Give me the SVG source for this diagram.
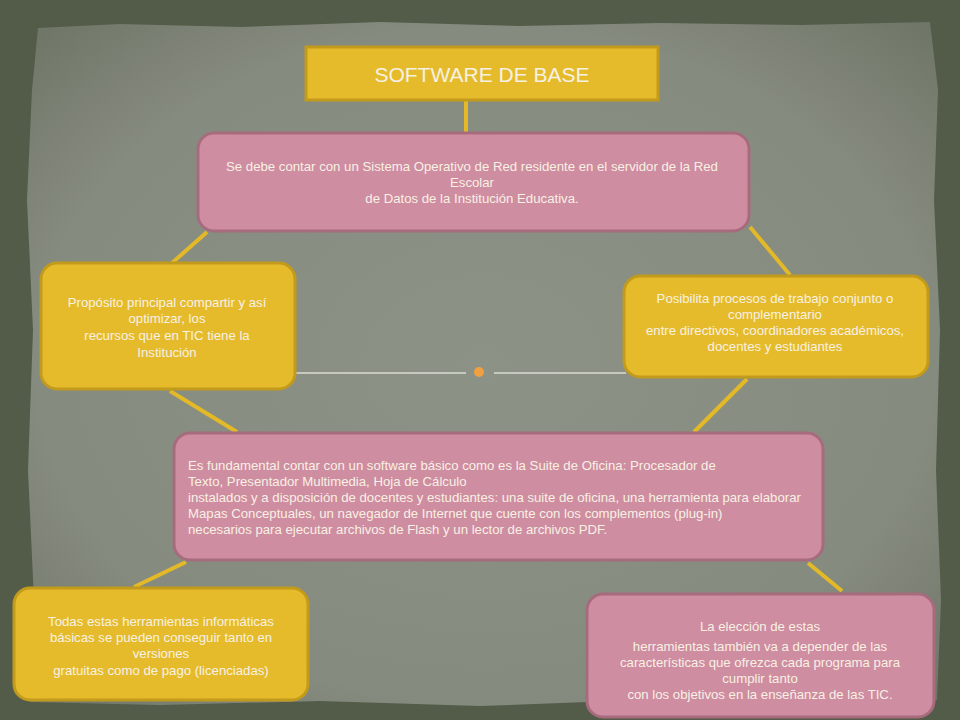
<svg xmlns="http://www.w3.org/2000/svg" width="960" height="720" viewBox="0 0 960 720">
<style>
.y{fill:#e5bb2b;stroke:#c29a1c;stroke-width:3}
.p{fill:#cf8da1;stroke:#a66c7d;stroke-width:3}
.t{font-family:"Liberation Sans",Arial,sans-serif;font-size:13.2px;fill:#f7f1e4}
.c{stroke:#e3b928;stroke-width:4;fill:none;stroke-linecap:butt}
</style>
<defs>
<radialGradient id="bg" cx="50%" cy="50%" r="70%">
<stop offset="0" stop-color="#8d9287"/>
<stop offset="0.7" stop-color="#868b7f"/>
<stop offset="1" stop-color="#6e7566"/>
</radialGradient>
</defs>
<rect width="960" height="720" fill="#535b49"/>
<polygon fill="url(#bg)" points="38,28 120,24 240,27 380,22 520,26 660,23 800,25 930,22 938,90 934,200 940,330 936,470 941,600 937,700 800,704 640,700 480,706 320,701 160,705 30,702 34,600 28,470 33,330 27,200 32,90"/>
<g id="connectors">
<line class="c" x1="466" y1="100" x2="466" y2="133"/>
<line class="c" x1="207" y1="232" x2="172" y2="263"/>
<line class="c" x1="750" y1="227" x2="790" y2="275"/>
<line class="c" x1="170" y1="391" x2="237" y2="432"/>
<line class="c" x1="747" y1="379" x2="694" y2="432"/>
<line class="c" x1="186" y1="562" x2="134" y2="587"/>
<line class="c" x1="808" y1="563" x2="842" y2="591"/>
<line x1="296" y1="373" x2="466" y2="373" stroke="#d8dcd2" stroke-width="1.5"/>
<line x1="494" y1="373" x2="626" y2="373" stroke="#d8dcd2" stroke-width="1.5"/>
<circle cx="479" cy="372" r="5" fill="#f0a040"/>
</g>
<g id="n1">
<rect class="y" x="306" y="47" width="352" height="53"/>
<text class="t" x="482" y="82" text-anchor="middle" style="font-size:21px">SOFTWARE DE BASE</text>
</g>
<g id="n2">
<rect class="p" x="198" y="133" width="551" height="98" rx="16"/>
<text class="t" text-anchor="middle"><tspan x="472" y="171">Se debe contar con un Sistema Operativo de Red residente en el servidor de la Red</tspan><tspan x="472" y="187">Escolar</tspan><tspan x="472" y="203">de Datos de la Institución Educativa.</tspan></text>
</g>
<g id="n3">
<rect class="y" x="41" y="263" width="254" height="126" rx="16"/>
<text class="t" text-anchor="middle"><tspan x="167" y="307">Propósito principal compartir y así</tspan><tspan x="167" y="323">optimizar, los</tspan><tspan x="167" y="340">recursos que en TIC tiene la</tspan><tspan x="167" y="357">Institución</tspan></text>
</g>
<g id="n4">
<rect class="y" x="624" y="276" width="304" height="101" rx="16"/>
<text class="t" text-anchor="middle"><tspan x="775" y="303">Posibilita procesos de trabajo conjunto o</tspan><tspan x="775" y="319">complementario</tspan><tspan x="775" y="335">entre directivos, coordinadores académicos,</tspan><tspan x="775" y="351">docentes y estudiantes</tspan></text>
</g>
<g id="n5">
<rect class="p" x="174" y="433" width="649" height="127" rx="16"/>
<text class="t"><tspan x="188" y="470">Es fundamental contar con un software básico como es la Suite de Oficina: Procesador de</tspan><tspan x="188" y="486">Texto, Presentador Multimedia, Hoja de Cálculo</tspan><tspan x="188" y="502">instalados y a disposición de docentes y estudiantes: una suite de oficina, una herramienta para elaborar</tspan><tspan x="188" y="518">Mapas Conceptuales, un navegador de Internet que cuente con los complementos (plug-in)</tspan><tspan x="188" y="534">necesarios para ejecutar archivos de Flash y un lector de archivos PDF.</tspan></text>
</g>
<g id="n6">
<rect class="y" x="14" y="588" width="294" height="112" rx="16"/>
<text class="t" text-anchor="middle"><tspan x="161" y="626">Todas estas herramientas informáticas</tspan><tspan x="161" y="642">básicas se pueden conseguir tanto en</tspan><tspan x="161" y="658">versiones</tspan><tspan x="161" y="675">gratuitas como de pago (licenciadas)</tspan></text>
</g>
<g id="n7">
<rect class="p" x="587" y="594" width="347" height="123" rx="16"/>
<text class="t" text-anchor="middle"><tspan x="760" y="631">La elección de estas</tspan><tspan x="760" y="651">herramientas también va a depender de las</tspan><tspan x="760" y="667">características que ofrezca cada programa para</tspan><tspan x="760" y="683">cumplir tanto</tspan><tspan x="760" y="699">con los objetivos en la enseñanza de las TIC.</tspan></text>
</g>
</svg>
